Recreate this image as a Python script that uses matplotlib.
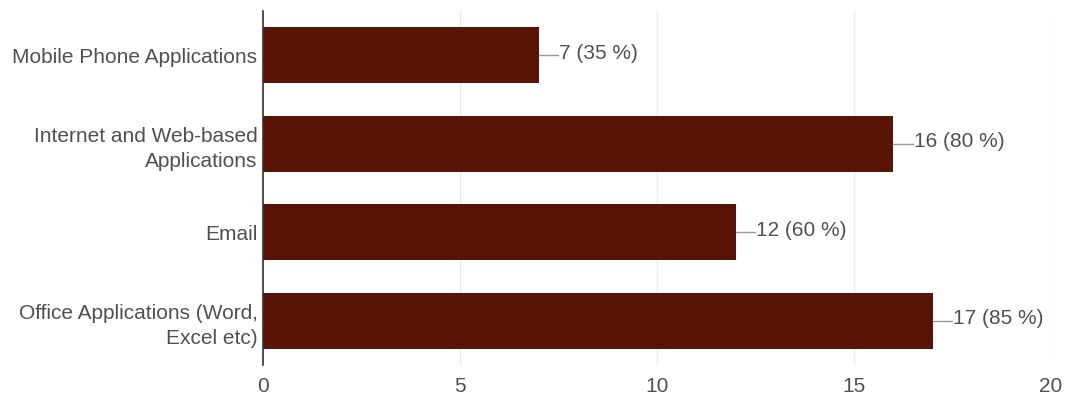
import matplotlib.pyplot as plt
import numpy as np

plt.rcParams["font.family"] = ["Liberation Sans", "DejaVu Sans"]

categories = [
    "Mobile Phone Applications",
    "Internet and Web-based\nApplications",
    "Email",
    "Office Applications (Word,\nExcel etc)",
]
counts = [7, 16, 12, 17]
percents = [35, 80, 60, 85]
xticks = [0, 5, 10, 15, 20]

fig = plt.figure(figsize=(10.66, 4.01), dpi=100)
ax = fig.add_axes([0.2467, 0.0898, 0.9859 - 0.2467, 0.9726 - 0.0898])

y = np.arange(len(categories))
ax.barh(y, counts, height=0.63, color="#5a1407", zorder=3)

# leader line + value label
for i, (c, p) in enumerate(zip(counts, percents)):
    ax.plot([c, c + 0.5], [i, i], color="#999999", lw=1, zorder=3)
    ax.text(c + 0.52, i - 0.02, f"{c} ({p} %)", va="center", ha="left",
            fontsize=15, color="#505050")

ax.set_xlim(0, 20)
ax.set_ylim(len(categories) - 0.5, -0.5)
ax.set_xticks(xticks)
ax.set_yticks(y)
ax.set_yticklabels(categories, linespacing=1.45)
ax.tick_params(axis="both", length=0, labelsize=15, labelcolor="#505050")
ax.tick_params(axis="x", pad=9)
ax.tick_params(axis="y", pad=4)
ax.grid(axis="x", color="#ebebeb", lw=1, zorder=0)
for s in ["top", "right", "bottom"]:
    ax.spines[s].set_visible(False)
ax.spines["left"].set_color("#333333")
ax.spines["left"].set_linewidth(1.2)
ax.spines["left"].set_zorder(4)

fig.savefig("out.png", dpi=100)
